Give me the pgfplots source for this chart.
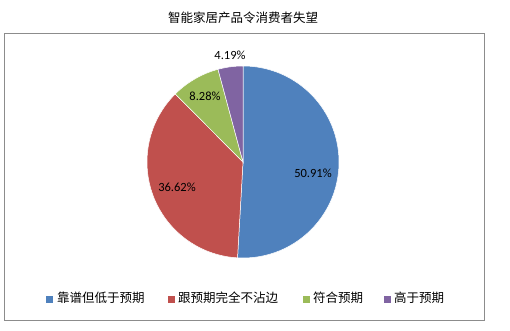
\documentclass[border=0pt]{standalone}
\usepackage{pgfplots}
\pgfplotsset{compat=1.18}
\usepackage{fontspec}
\setmainfont{Carlito}
\newfontfamily\cjk{Noto Sans CJK SC}
\definecolor{cblue}{HTML}{4F81BD}
\definecolor{cred}{HTML}{C0504D}
\definecolor{cgreen}{HTML}{9BBB59}
\definecolor{cpurple}{HTML}{8064A2}
\definecolor{frame}{HTML}{8C8C8C}
\begin{document}
\begin{tikzpicture}
% data (percent)
\def\vA{50.91}\def\vB{36.62}\def\vC{8.28}\def\vD{4.19}
\pgfmathsetmacro\aA{90}
\pgfmathsetmacro\aB{\aA-3.6*\vA}
\pgfmathsetmacro\aC{\aB-3.6*\vB}
\pgfmathsetmacro\aD{\aC-3.6*\vC}
\pgfmathsetmacro\aE{\aD-3.6*\vD}
\begin{axis}[scale only axis, width=510pt, height=330pt,
  xmin=0, xmax=510, ymin=0, ymax=330, axis lines=none, clip=false]
\path[fill=white] (axis cs:0,0) rectangle (axis cs:510,330);
\draw[frame, line width=0.8pt] (axis cs:4,10) rectangle (axis cs:484,297);
\node[font=\cjk\fontsize{12.5}{14}\selectfont] at (axis cs:243,312) {智能家居产品令消费者失望};
\addplot[fill=cblue, draw=white, line width=0.5pt, domain=\aB:\aA, samples=90, variable=\t]
  ({243+96*cos(t)},{168+96*sin(t)}) -- (axis cs:243,168) -- cycle;
\addplot[fill=cred, draw=white, line width=0.5pt, domain=\aC:\aB, samples=70, variable=\t]
  ({243+96*cos(t)},{168+96*sin(t)}) -- (axis cs:243,168) -- cycle;
\addplot[fill=cgreen, draw=white, line width=0.5pt, domain=\aD:\aC, samples=30, variable=\t]
  ({243+96*cos(t)},{168+96*sin(t)}) -- (axis cs:243,168) -- cycle;
\addplot[fill=cpurple, draw=white, line width=0.5pt, domain=\aE:\aD, samples=20, variable=\t]
  ({243+96*cos(t)},{168+96*sin(t)}) -- (axis cs:243,168) -- cycle;
\begin{scope}[every node/.style={font=\fontsize{12.5}{14}\selectfont}]
\node at (axis cs:313,157) {50.91\%};
\node at (axis cs:177,143) {36.62\%};
\node at (axis cs:205,234) {8.28\%};
\node at (axis cs:230,275) {4.19\%};
\end{scope}
\begin{scope}[every node/.style={font=\cjk\fontsize{12.5}{14}\selectfont, anchor=west, inner sep=0pt}]
\fill[cblue] (axis cs:46,27) rectangle (axis cs:53,34);
\node at (axis cs:57,32) {靠谱但低于预期};
\fill[cred] (axis cs:167.5,27) rectangle (axis cs:174.5,34);
\node at (axis cs:178,32) {跟预期完全不沾边};
\fill[cgreen] (axis cs:302.5,27) rectangle (axis cs:309.5,34);
\node at (axis cs:313,32) {符合预期};
\fill[cpurple] (axis cs:384,27) rectangle (axis cs:391,34);
\node at (axis cs:394,32) {高于预期};
\end{scope}
\end{axis}
\end{tikzpicture}
\end{document}
